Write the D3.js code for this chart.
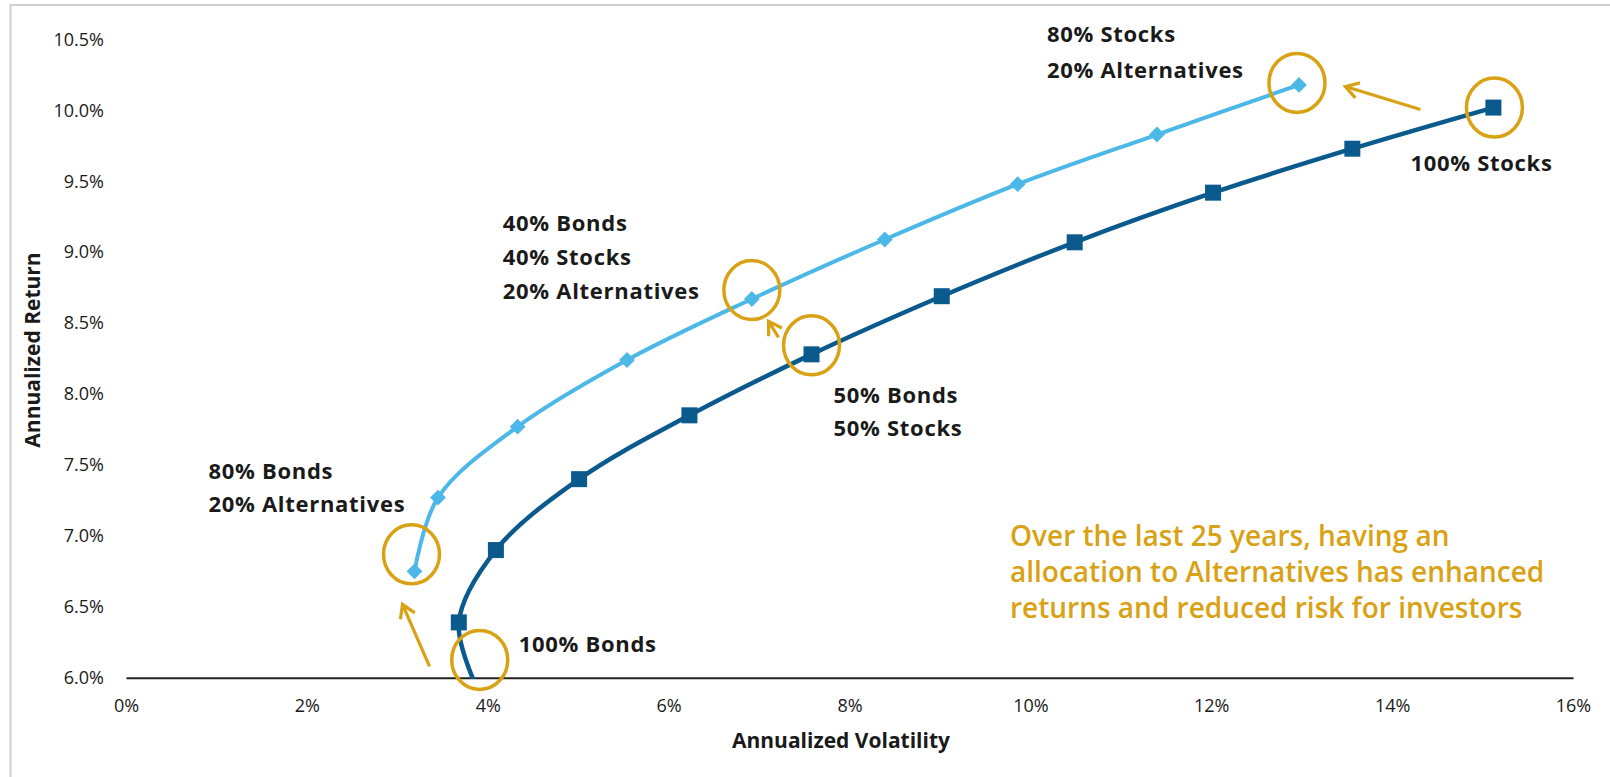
<!DOCTYPE html>
<html><head><meta charset="utf-8">
<script src="https://cdn.jsdelivr.net/npm/d3@7"></script>
<style>
body{margin:0;background:#fff;}
svg text{font-family:"Open Sans",Lato,sans-serif;}
</style>
</head><body>
<svg id="chart" width="1610" height="777"></svg>
<script>
// ---- data ----
const xTickValues = [0, 2, 4, 6, 8, 10, 12, 14, 16];
const yTickValues = [6.0, 6.5, 7.0, 7.5, 8.0, 8.5, 9.0, 9.5, 10.0, 10.5];
// Stocks / Bonds frontier (100% Bonds -> 100% Stocks)
const sbVol = [3.90, 3.68, 4.09, 5.01, 6.23, 7.58, 9.02, 10.49, 12.02, 13.56, 15.12];
const sbRet = [5.90, 6.39, 6.90, 7.40, 7.85, 8.28, 8.69, 9.07, 9.42, 9.73, 10.02];
// With 20% Alternatives (80% Bonds -> 80% Stocks)
const altVol = [3.19, 3.45, 4.33, 5.54, 6.92, 8.39, 9.86, 11.40, 12.97];
const altRet = [6.75, 7.27, 7.77, 8.24, 8.67, 9.09, 9.48, 9.83, 10.18];
const xTitle = "Annualized Volatility";
const yTitle = "Annualized Return";
const noteLines = ["Over the last 25 years, having an",
                   "allocation to Alternatives has enhanced",
                   "returns and reduced risk for investors"];

// ---- layout / styles ----
const C = {dark:"#0b5a8e", light:"#4cb8e8", gold:"#d9a214", text:"#1a1a1a"};
const svg = d3.select("#chart");
const x = d3.scaleLinear().domain([0, 16]).range([126, 1573]);
const y = d3.scaleLinear().domain([6, 10.5]).range([677.7, 39.5]);

// frame
svg.append("path").attr("d","M10.5,777 V5 H1610").attr("fill","none")
   .attr("stroke","#cfcfcf").attr("stroke-width",2);

// clip to plot area (returns below 6% are cut off)
svg.append("defs").append("clipPath").attr("id","plot")
   .append("rect").attr("x",0).attr("y",0).attr("width",1610).attr("height",y(6)+1);

// axes
const xAxis = d3.axisBottom(x).tickValues(xTickValues).tickSize(0).tickPadding(22)
   .tickFormat(d => d + "%");
const gx = svg.append("g").attr("transform",`translate(0,${y(6)})`).call(xAxis);
gx.select(".domain").attr("stroke","#222").attr("stroke-width",2);
gx.selectAll("text").attr("fill",C.text).style("font-size","18px");

const yAxis = d3.axisLeft(y).tickValues(yTickValues).tickSize(0).tickPadding(22)
   .tickFormat(d => d.toFixed(1) + "%");
const gy = svg.append("g").attr("transform",`translate(126,0)`).call(yAxis);
gy.select(".domain").remove();
gy.selectAll("text").attr("fill",C.text).style("font-size","18px");

svg.append("text").attr("x",841).attr("y",748).attr("text-anchor","middle")
   .attr("fill",C.text).style("font-size","21px").style("font-weight","bold").text(xTitle);
svg.append("text").attr("transform","translate(40,350) rotate(-90)").attr("text-anchor","middle")
   .attr("fill",C.text).style("font-size","21px").style("font-weight","bold").text(yTitle);

// series
const sb = sbVol.map((v,i)=>({v, r:sbRet[i]}));
const alt = altVol.map((v,i)=>({v, r:altRet[i]}));
const line = d3.line().x(d=>x(d.v)).y(d=>y(d.r)).curve(d3.curveCatmullRom.alpha(0.5));
const plot = svg.append("g").attr("clip-path","url(#plot)");
plot.append("path").datum(sb).attr("d",line).attr("fill","none")
   .attr("stroke",C.dark).attr("stroke-width",4.5);
plot.append("path").datum(alt).attr("d",line).attr("fill","none")
   .attr("stroke",C.light).attr("stroke-width",4);
plot.selectAll("rect.sq").data(sb).join("rect").attr("class","sq")
   .attr("x",d=>x(d.v)-8).attr("y",d=>y(d.r)-8).attr("width",16).attr("height",16)
   .attr("fill",C.dark);
plot.selectAll("path.dm").data(alt).join("path").attr("class","dm")
   .attr("d",d3.symbol(d3.symbolDiamond2, 160))
   .attr("transform",d=>`translate(${x(d.v)},${y(d.r)})`).attr("fill",C.light);

// annotations (offsets in px from the referenced point)
const notes = [
  {p: alt[8], lines:["80% Stocks","20% Alternatives"], dx:-252, dy:[-51,-15], cx:-2, cy:-2},
  {p: sb[10], lines:["100% Stocks"], dx:-83, dy:[56], cx:1, cy:0},
  {p: alt[4], lines:["40% Bonds","40% Stocks","20% Alternatives"], dx:-249, dy:[-76,-42,-8], cx:0, cy:-9},
  {p: sb[5], lines:["50% Bonds","50% Stocks"], dx:22, dy:[41,74], cx:0, cy:-9},
  {p: alt[0], lines:["80% Bonds","20% Alternatives"], dx:-206, dy:[-100,-67], cx:-3, cy:-17},
  {p: sb[0], lines:["100% Bonds"], dx:40, dy:[-48], cx:1, cy:-32}
];
const arrows = [
  {p: alt[0], from:[15,95], to:[-12,33]},
  {p: sb[10], from:[-73,2], to:[-148,-21]},
  {p: sb[5], from:[-33,-17], to:[-43,-33]}
];
const ann = svg.append("g");
notes.forEach(n=>{
  const px = x(n.p.v), py = y(n.p.r);
  ann.append("ellipse").attr("cx",px+n.cx).attr("cy",py+n.cy).attr("rx",28).attr("ry",29.5)
     .attr("fill","none").attr("stroke",C.gold).attr("stroke-width",3.5);
  n.lines.forEach((t,i)=>{
    ann.append("text").attr("x",px+n.dx).attr("y",py+n.dy[i]).attr("dy","0.35em")
       .attr("fill",C.text).style("font-size","22px").style("letter-spacing","0.7px")
       .style("font-weight","bold").text(t);
  });
});
arrows.forEach(a=>{
  const px = x(a.p.v), py = y(a.p.r);
  const x1=px+a.from[0], y1=py+a.from[1], x2=px+a.to[0], y2=py+a.to[1];
  const ang = Math.atan2(y2-y1, x2-x1), L=15, s=0.55;
  ann.append("path")
     .attr("d",`M${x1},${y1}L${x2},${y2}M${x2-L*Math.cos(ang-s)},${y2-L*Math.sin(ang-s)}L${x2},${y2}L${x2-L*Math.cos(ang+s)},${y2-L*Math.sin(ang+s)}`)
     .attr("fill","none").attr("stroke",C.gold).attr("stroke-width",3.2)
     .attr("stroke-linejoin","miter").attr("stroke-linecap","butt");
});
// key message
noteLines.forEach((t,i)=>{
  svg.append("text").attr("x",1010).attr("y",536+i*36).attr("dy","0.35em")
     .attr("fill",C.gold).style("font-size","28px").style("font-weight","600").text(t);
});
</script>
</body></html>
